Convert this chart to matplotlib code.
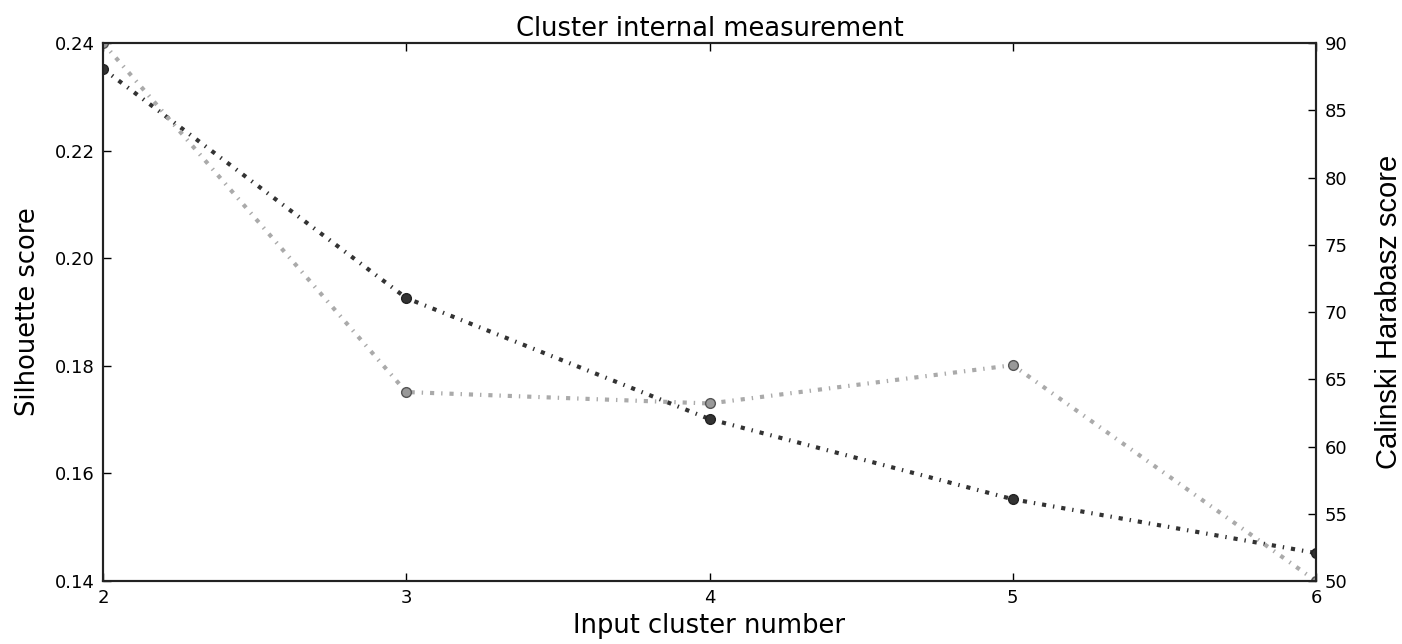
import matplotlib
matplotlib.use("Agg")
from matplotlib import pyplot as plt

plt.rcParams['lines.scale_dashes'] = False

clusters = [2, 3, 4, 5, 6]
silhouette = [0.2352, 0.1926, 0.1701, 0.1552, 0.1452]
calinski = [90.0, 64.05, 63.2, 66.05, 50.0]

fig = plt.figure(figsize=(14.02, 6.44), dpi=100)
ax = fig.add_axes([0.0735, 0.0978, 0.8652, 0.8354])
ax2 = ax.twinx()

# classic style dash-dot, drawn at the same width for both series
ax.plot(clusters, silhouette, color='#333333', linewidth=3, dashes=(3, 5, 1, 5),
        marker='o', markersize=7, markerfacecolor='#333333', markeredgecolor='#222222',
        zorder=3)
ax2.plot(clusters, calinski, color='#aaaaaa', linewidth=3, dashes=(3, 5, 1, 5),
         marker='o', markersize=7, markerfacecolor='#999999', markeredgecolor='#555555',
         zorder=2)

ax.set_xlim(2, 6)
ax.set_ylim(0.14, 0.24)
ax2.set_ylim(50, 90)
ax.set_xticks(clusters)
ax.set_yticks([0.14, 0.16, 0.18, 0.20, 0.22, 0.24])
ax.set_yticklabels(['0.14', '0.16', '0.18', '0.20', '0.22', '0.24'])
ax2.set_yticks([50, 55, 60, 65, 70, 75, 80, 85, 90])

ax.tick_params(direction='in', length=6, width=1, labelsize=13, top=True, pad=6)
ax.tick_params(axis='y', right=False)
ax2.tick_params(direction='in', length=6, width=1, labelsize=13, pad=6)

for a in (ax, ax2):
    for s in a.spines.values():
        s.set_linewidth(1.5)
        s.set_color('#222222')

ax.set_title("Cluster internal measurement", fontsize=18.5, pad=5)
ax.set_xlabel("Input cluster number", fontsize=18.5, labelpad=4)
ax.set_ylabel("Silhouette score", fontsize=18.5, labelpad=10)
ax2.set_ylabel("Calinski Harabasz score", fontsize=21, family='Liberation Sans', labelpad=20)

fig.savefig("out.png", dpi=100)
